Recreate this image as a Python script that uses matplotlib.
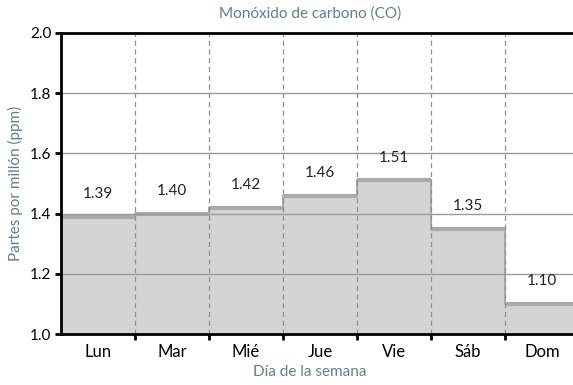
import numpy as np
import matplotlib.pyplot as plt
from matplotlib.ticker import FixedLocator

days = ['Lun', 'Mar', 'Mié', 'Jue', 'Vie', 'Sáb', 'Dom']
co_ppm = [1.39, 1.40, 1.42, 1.46, 1.51, 1.35, 1.10]
value_labels = ['1.39', '1.40', '1.42', '1.46', '1.51', '1.35', '1.10']

plt.rcParams['font.family'] = ['Lato', 'DejaVu Sans']

label_color = '#5d7f8f'
fill_color = '#d3d4d6'
edge_color = '#a9aaac'

fig = plt.figure(figsize=(5.73, 3.85), dpi=100)
# axes run a little past the right edge of the figure
ax = fig.add_axes([61 / 573, 1 - 334 / 385, 518 / 573, 301 / 385])

n = len(days)
edges = np.arange(n + 1)
vals = np.array(co_ppm)

ax.fill_between(edges, np.append(vals, vals[-1]), 1.0, step='post',
                color=fill_color, lw=0, zorder=1)
for i, v in enumerate(vals):
    ax.plot([i, i + 1], [v, v], color=edge_color, lw=3, solid_capstyle='butt', zorder=2)
    if i > 0:
        ax.plot([i, i], [vals[i - 1], v], color=edge_color, lw=1.5, zorder=2)
    ax.text(i + 0.5, v + 0.075, value_labels[i], ha='center', va='center',
            fontsize=11, color='#222222', zorder=5)

for y in [1.2, 1.4, 1.6, 1.8]:
    ax.axhline(y, color='#9a9a9a', lw=1, zorder=3)
for x in edges[1:-1]:
    ax.axvline(x, color='#8f8f8f', lw=0.9, ls=(0, (4, 3)), zorder=3)

ax.set_xlim(0, n)
ax.set_ylim(1.0, 2.0)

ax.xaxis.set_major_locator(FixedLocator(edges[1:-1]))
ax.xaxis.set_minor_locator(FixedLocator(edges[:-1] + 0.5))
ax.set_xticklabels([])
ax.set_xticklabels(days, minor=True)
ax.tick_params(axis='x', which='major', direction='out', length=4, width=2)
ax.tick_params(axis='x', which='minor', length=0, pad=7, labelsize=12)

ax.set_yticks([1.0, 1.2, 1.4, 1.6, 1.8, 2.0])
ax.set_yticklabels(['1.0', '1.2', '1.4', '1.6', '1.8', '2.0'])
ax.tick_params(axis='y', direction='out', length=4, width=2, labelsize=11, pad=3)

for side in ['left', 'bottom', 'top', 'right']:
    ax.spines[side].set_linewidth(2)
    ax.spines[side].set_zorder(6)

fig.text(310 / 573, 1 - 14 / 385, 'Monóxido de carbono (CO)', ha='center', va='center',
         fontsize=11, color=label_color)
fig.text(310 / 573, 1 - 372 / 385, 'Día de la semana', ha='center', va='center',
         fontsize=11, color=label_color)
fig.text(15 / 573, 1 - 183 / 385, 'Partes por millón (ppm)', ha='center', va='center',
         rotation=90, fontsize=11, color=label_color)

fig.savefig('out.png', dpi=100)
